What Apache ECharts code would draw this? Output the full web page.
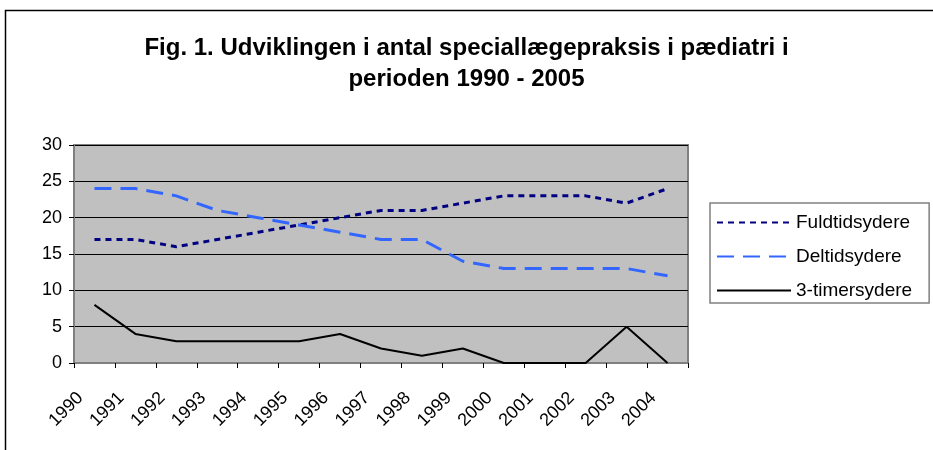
<!DOCTYPE html>
<html>
<head>
<meta charset="utf-8">
<script src="https://cdn.jsdelivr.net/npm/echarts@6/dist/echarts.min.js"></script>
<style>html,body{margin:0;padding:0;background:#fff}#c{width:933px;height:450px}</style>
</head>
<body>
<div id="c"></div>
<script>
var years = ['1990','1991','1992','1993','1994','1995','1996','1997','1998','1999','2000','2001','2002','2003','2004'];
var fuldtid = [17,17,16,17,18,19,20,21,21,22,23,23,23,22,24];
var deltid = [24,24,23,21,20,19,18,17,17,14,13,13,13,13,12];
var timer3 = [8,4,3,3,3,3,4,2,1,2,0,0,0,5,0];
var seriesNames = ['Fuldtidsydere','Deltidsydere','3-timersydere'];
var titleText = 'Fig. 1. Udviklingen i antal speciallægepraksis i pædiatri i\nperioden 1990 - 2005';

var FONT = '"Liberation Sans", Arial, sans-serif';
var chart = echarts.init(document.getElementById('c'), null, {renderer:'canvas'});
chart.setOption({
  animation: false,
  backgroundColor: '#fff',
  graphic: [{
    type: 'rect', silent: true, z: -10,
    shape: {x: 5.5, y: 10.5, width: 1000, height: 1000},
    style: {fill: 'none', stroke: '#000', lineWidth: 1.5}
  }],
  title: {
    text: titleText,
    left: 'center', top: 33, padding: 0,
    textStyle: {fontFamily: FONT, fontWeight: 'bold', fontSize: 24, lineHeight: 31, color: '#000'}
  },
  legend: {
    orient: 'vertical', left: 710, top: 203,
    padding: [10, 17, 3, 6],
    itemWidth: 74, itemHeight: 18, itemGap: 15,
    borderColor: '#808080', borderWidth: 1.5,
    itemStyle: {opacity: 0},
    data: seriesNames,
    textStyle: {fontFamily: FONT, fontSize: 19, color: '#000'}
  },
  grid: {
    left: 74, top: 145, right: 245, bottom: 87,
    show: true, backgroundColor: '#C0C0C0', borderColor: '#808080', borderWidth: 2
  },
  xAxis: {
    type: 'category', data: years, boundaryGap: true,
    axisLine: {show: true, lineStyle: {color: '#808080', width: 2}},
    axisTick: {show: true, length: 5, lineStyle: {color: '#000'}},
    axisLabel: {rotate: 45, margin: 18, padding: [0, 20, 0, 0], fontFamily: FONT, fontSize: 18, color: '#000', interval: 0},
    splitLine: {show: false}
  },
  yAxis: {
    type: 'value', min: 0, max: 30, interval: 5,
    axisLine: {show: true, lineStyle: {color: '#808080', width: 2}},
    axisTick: {show: true, length: 5, lineStyle: {color: '#000'}},
    axisLabel: {margin: 12, fontFamily: FONT, fontSize: 18, color: '#000'},
    splitLine: {show: true, lineStyle: {color: '#000', width: 1}}
  },
  series: [
    {name: seriesNames[0], type: 'line', data: fuldtid, symbol: 'none',
     lineStyle: {color: '#000080', width: 3, type: [6, 5]}, itemStyle: {color: '#000080'}},
    {name: seriesNames[1], type: 'line', data: deltid, symbol: 'none',
     lineStyle: {color: '#3366FF', width: 3, type: [17, 9]}, itemStyle: {color: '#3366FF'}},
    {name: seriesNames[2], type: 'line', data: timer3, symbol: 'none',
     lineStyle: {color: '#000', width: 2}, itemStyle: {color: '#000'}}
  ]
});
</script>
</body>
</html>
